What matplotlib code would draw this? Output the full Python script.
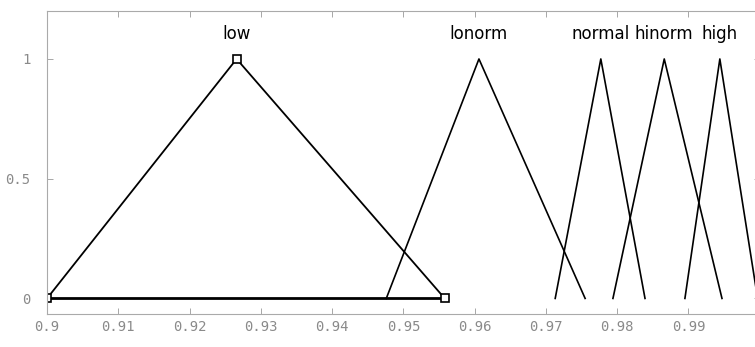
import numpy as np
import matplotlib
matplotlib.use('Agg')
import matplotlib.pyplot as plt

# membership functions (triangles: left foot, peak, right foot)
mf_names = ['low', 'lonorm', 'normal', 'hinorm', 'high']
mf_left = [0.9, 0.9476, 0.9713, 0.9794, 0.9895]
mf_peak = [0.9266, 0.9606, 0.9777, 0.9866, 0.9944]
mf_right = [0.9558, 0.9755, 0.9839, 0.9947, 0.9997]

xticks = [0.9, 0.91, 0.92, 0.93, 0.94, 0.95, 0.96, 0.97, 0.98, 0.99]
xtick_labels = ['0.9', '0.91', '0.92', '0.93', '0.94', '0.95', '0.96', '0.97', '0.98', '0.99']
yticks = [0, 0.5, 1]
ytick_labels = ['0', '0.5', '1']

fig = plt.figure(figsize=(7.55, 3.47), dpi=100)
ax = fig.add_axes([0.0623, 0.0951, 0.944, 0.873])

for i in range(len(mf_names)):
    xs = [mf_left[i], mf_peak[i], mf_right[i]]
    ys = [0, 1, 0]
    if i == 0:
        # selected MF: thicker, with vertex markers and base line
        ax.plot([mf_left[i], mf_right[i]], [0, 0], color='black', lw=2.0)
        ax.plot(xs, ys, color='black', lw=1.3)
        ax.plot(xs, ys, linestyle='none', marker='s', ms=6, mfc='white',
                mec='black', mew=1.2)
    else:
        ax.plot(xs, ys, color='black', lw=1.2)
    ax.text(mf_peak[i], 1.105, mf_names[i], ha='center', va='center',
            fontsize=12, color='black', family='DejaVu Sans')

ax.set_xlim(0.9, 1.0)
ax.set_ylim(-0.065, 1.2)
ax.set_xticks(xticks)
ax.set_xticklabels(xtick_labels, family='DejaVu Sans Mono')
ax.set_yticks(yticks)
ax.set_yticklabels(ytick_labels, family='DejaVu Sans Mono')
ax.tick_params(direction='in', length=4, width=0.6, colors='#999999',
               labelcolor='#8a8a8a', labelsize=10, top=True, right=True)
ax.tick_params(axis='x', pad=4)
ax.tick_params(axis='y', pad=12)
for s in ax.spines.values():
    s.set_color('#aaaaaa')
    s.set_linewidth(0.8)

fig.savefig('out.png', dpi=100)
